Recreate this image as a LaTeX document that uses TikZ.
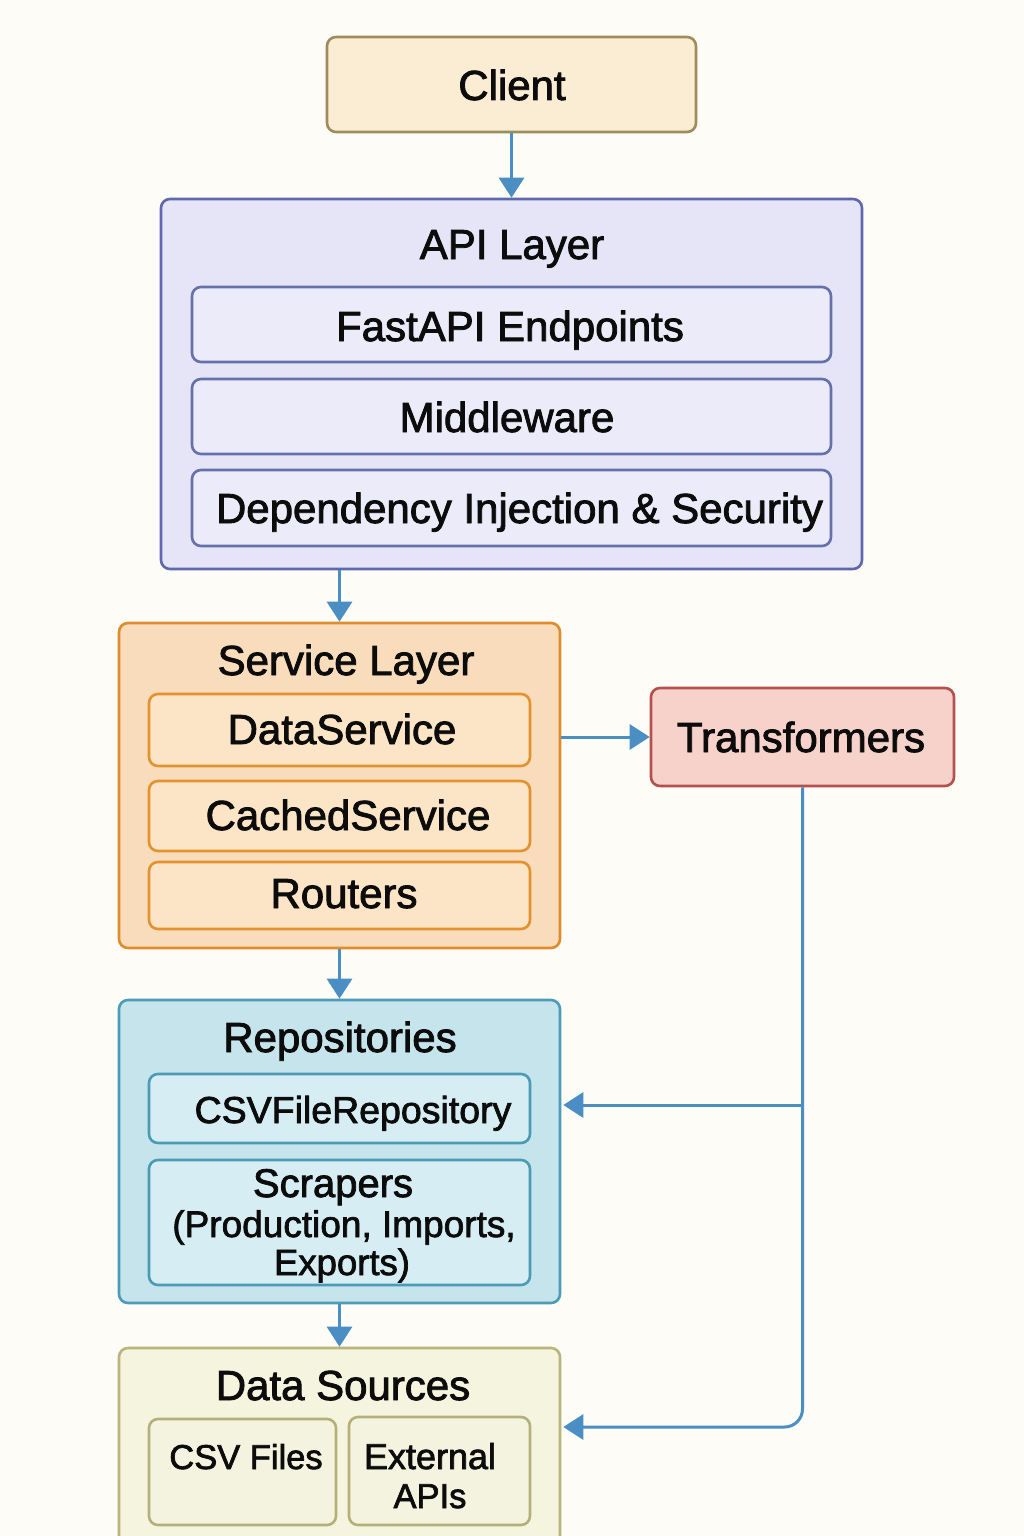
\documentclass[tikz,border=0pt]{standalone}
\usepackage{fontspec}
\setmainfont{Liberation Sans}[FakeBold=2]
\usetikzlibrary{arrows.meta}
\definecolor{bgc}{HTML}{FDFCF7}
\definecolor{ink}{HTML}{0C0C0C}
\definecolor{arrowc}{HTML}{4A8EC3}
\definecolor{clientf}{HTML}{FBEDD4}
\definecolor{clientb}{HTML}{9E8D5C}
\definecolor{apif}{HTML}{E5E5F7}
\definecolor{apib}{HTML}{5F68AE}
\definecolor{apiif}{HTML}{ECEBFA}
\definecolor{apiib}{HTML}{6670AA}
\definecolor{svcf}{HTML}{F8DCBC}
\definecolor{svcb}{HTML}{DE8C2C}
\definecolor{svcif}{HTML}{FCE5C6}
\definecolor{svcib}{HTML}{E2922F}
\definecolor{trf}{HTML}{F7D2CA}
\definecolor{trb}{HTML}{B5504D}
\definecolor{repf}{HTML}{C5E4EC}
\definecolor{repb}{HTML}{4C9BB7}
\definecolor{repif}{HTML}{D6EEF3}
\definecolor{repib}{HTML}{4D9AB5}
\definecolor{dsf}{HTML}{F5F4DE}
\definecolor{dsb}{HTML}{BAB57B}
\definecolor{dsif}{HTML}{F4F3E0}
\definecolor{dsib}{HTML}{B5B07A}
\begin{document}
\begin{tikzpicture}[x=1pt,y=-1pt,
  box/.style={draw, line width=2.6pt, rounded corners=9pt, inner sep=0pt},
  lbl/.style={anchor=base, inner sep=0pt, text=ink, font=\fontsize{42}{48}\selectfont},
  lblm/.style={lbl, font=\fontsize{37.5}{44}\selectfont},
  lbls/.style={lbl, font=\fontsize{34.5}{40}\selectfont},
  arr/.style={draw=arrowc, line width=3pt, -{Triangle[width=25pt,length=20pt]}},
]
\fill[bgc] (0,0) rectangle (1024,1536);
\useasboundingbox (0,0) rectangle (1024,1536);

% Client
\node[box, draw=clientb, fill=clientf, minimum width=369pt, minimum height=95pt] (client) at (511.5,84.5) {};
\node[lbl] (clientT) at (512,100) {Client};

% API layer
\node[box, draw=apib, fill=apif, minimum width=701pt, minimum height=370pt] (api) at (511.5,384) {};
\node[lbl] (apiT) at (512,259) {API Layer};
\node[box, draw=apiib, fill=apiif, minimum width=639pt, minimum height=75pt] (fast) at (511.5,324.5) {};
\node[lbl] (fastT) at (510,341) {FastAPI Endpoints};
\node[box, draw=apiib, fill=apiif, minimum width=639pt, minimum height=75pt] (mid) at (511.5,416.5) {};
\node[lbl] (midT) at (507,432) {Middleware};
\node[box, draw=apiib, fill=apiif, minimum width=639pt, minimum height=76pt] (dep) at (511.5,508) {};
\node[lbl] (depT) at (519.5,523) {Dependency Injection \& Security};

% Service layer
\node[box, draw=svcb, fill=svcf, minimum width=441pt, minimum height=325pt] (svc) at (339.5,785.5) {};
\node[lbl] (svcT) at (346,675) {Service Layer};
\node[box, draw=svcib, fill=svcif, minimum width=381pt, minimum height=72pt] (dsv) at (339.5,730) {};
\node[lbl] (dsvT) at (342,744) {DataService};
\node[box, draw=svcib, fill=svcif, minimum width=381pt, minimum height=70pt] (csv) at (339.5,816) {};
\node[lbl] (csvT) at (348,830) {CachedService};
\node[box, draw=svcib, fill=svcif, minimum width=381pt, minimum height=67pt] (rout) at (339.5,895.5) {};
\node[lbl] (routT) at (344,908) {Routers};

% Transformers
\node[box, draw=trb, fill=trf, minimum width=303pt, minimum height=98pt] (tr) at (802.5,737) {};
\node[lbl] (trT) at (801,752) {Transformers};

% Repositories
\node[box, draw=repb, fill=repf, minimum width=441pt, minimum height=303pt] (repo) at (339.5,1151.5) {};
\node[lbl] (repoT) at (340,1052) {Repositories};
\node[box, draw=repib, fill=repif, minimum width=381pt, minimum height=69pt] (csvr) at (339.5,1108.5) {};
\node[lblm] (csvrT) at (353,1123) {CSVFileRepository};
\node[box, draw=repib, fill=repif, minimum width=381pt, minimum height=125pt] (scr) at (339.5,1222.5) {};
\node[lbl, font=\fontsize{40}{46}\selectfont] (scrT1) at (333,1197) {Scrapers};
\node[lbl, font=\fontsize{37}{43}\selectfont] (scrT2) at (344,1237) {(Production, Imports,};
\node[lbl, font=\fontsize{36.5}{43}\selectfont] (scrT3) at (342,1275) {Exports)};

% Data sources
\node[box, draw=dsb, fill=dsf, minimum width=441pt, minimum height=197pt] (ds) at (339.5,1446.5) {};
\node[lbl] (dsT) at (343,1400) {Data Sources};
\node[box, draw=dsib, fill=dsif, minimum width=187pt, minimum height=106pt] (files) at (242.5,1472) {};
\node[lbls] (filesT) at (246,1469) {CSV Files};
\node[box, draw=dsib, fill=dsif, minimum width=181pt, minimum height=108pt] (ext) at (439.5,1471) {};
\node[lbl, font=\fontsize{36}{42}\selectfont] (extT1) at (430,1469) {External};
\node[lbls] (extT2) at (430,1508) {APIs};

% Connectors
\draw[arr] (client.south) -- (api.north);
\draw[arr] (api.south -| svc.north) -- (svc.north);
\draw[arr] (svc.east |- tr.west) -- (tr.west);
\draw[arr] (svc.south) -- (repo.north);
\draw[arr] (repo.south) -- (ds.north);
\coordinate (j1) at (802.5,1105);
\coordinate (j2) at (802.5,1427);
\draw[arr] (j1) -- ([xshift=2pt]repo.east |- j1);
\draw[arr, rounded corners=18pt] (tr.south) -- (j2) -- ([xshift=2pt]ds.east |- j2);
\end{tikzpicture}
\end{document}
